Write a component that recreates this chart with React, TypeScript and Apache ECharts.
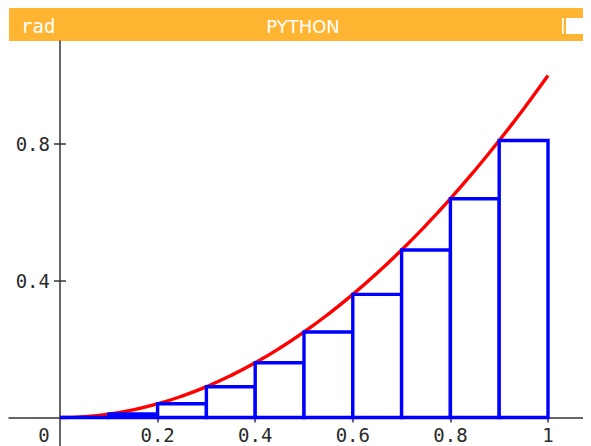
import React, { useEffect, useRef } from "react";
import * as echarts from "echarts";

// Left Riemann sum of y = x² on [0, 1] with 10 subintervals
const binStarts = [0, 0.1, 0.2, 0.3, 0.4, 0.5, 0.6, 0.7, 0.8, 0.9];
const binEnds = [0.1, 0.2, 0.3, 0.4, 0.5, 0.6, 0.7, 0.8, 0.9, 1.0];
const binHeights = [0, 0.01, 0.04, 0.09, 0.16, 0.25, 0.36, 0.49, 0.64, 0.81];

// Red curve sample points
const curveX = [0, 0.05, 0.1, 0.15, 0.2, 0.25, 0.3, 0.35, 0.4, 0.45, 0.5, 0.55, 0.6, 0.65, 0.7, 0.75, 0.8, 0.85, 0.9, 0.95, 1.0];
const curveY = [0, 0.0025, 0.01, 0.0225, 0.04, 0.0625, 0.09, 0.1225, 0.16, 0.2025, 0.25, 0.3025, 0.36, 0.4225, 0.49, 0.5625, 0.64, 0.7225, 0.81, 0.9025, 1.0];

const xTickValues = [0.2, 0.4, 0.6, 0.8, 1];
const xLabelValues = [0, 0.2, 0.4, 0.6, 0.8, 1];
const yTickValues = [0.4, 0.8];

const X_MIN = -0.1045;
const X_MAX = 1.0881;
const Y_MIN = -0.0834;
const Y_MAX = 1.1012;

const AXIS_COLOR = "#333333";
const LABEL_COLOR = "#2a2a2a";
const MONO = "'DejaVu Sans Mono', 'Liberation Mono', monospace";

export default function App() {
  const ref = useRef<HTMLDivElement>(null);

  useEffect(() => {
    if (!ref.current) return;
    const chart = echarts.init(ref.current, null, { renderer: "svg" });

    const axisLineStyle = { color: AXIS_COLOR, width: 1.5 };
    const labelStyle = { fontFamily: MONO, fontSize: 19, color: LABEL_COLOR };

    const option: any = {
      animation: false,
      backgroundColor: "#ffffff",
      grid: [
        // full plotting area: axis lines and ticks cross at the origin
        { left: 1, right: 0, top: 33, bottom: 0, outerBoundsMode: "none" },
        // area whose lower-left corner is the origin: carries the tick labels
        { left: 52, right: 0, top: 33, bottom: 28.5, outerBoundsMode: "none" },
      ],
      xAxis: [
        {
          type: "value",
          gridIndex: 0,
          min: X_MIN,
          max: X_MAX,
          position: "bottom",
          axisLine: { show: true, onZero: true, onZeroAxisIndex: 0, lineStyle: axisLineStyle },
          axisTick: { show: true, customValues: xTickValues, length: 5, lineStyle: axisLineStyle },
          axisLabel: { show: false },
          splitLine: { show: false },
        },
        {
          type: "value",
          gridIndex: 0,
          min: X_MIN,
          max: X_MAX,
          position: "top",
          axisLine: { show: false, onZero: true, onZeroAxisIndex: 0 },
          axisTick: { show: true, customValues: xTickValues, length: 5, lineStyle: axisLineStyle },
          axisLabel: { show: false },
          splitLine: { show: false },
        },
        {
          type: "value",
          gridIndex: 1,
          min: 0,
          max: X_MAX,
          position: "bottom",
          axisLine: { show: false, onZero: false },
          axisTick: { show: false },
          axisLabel: {
            show: true,
            customValues: xLabelValues,
            margin: 8,
            ...labelStyle,
            formatter: (v: number) => (v === 0 ? "{z|0}" : String(v)),
            rich: { z: { ...labelStyle, padding: [0, 32, 0, 0] } },
          },
          splitLine: { show: false },
        },
      ],
      yAxis: [
        {
          type: "value",
          gridIndex: 0,
          min: Y_MIN,
          max: Y_MAX,
          position: "left",
          axisLine: { show: true, onZero: true, onZeroAxisIndex: 0, lineStyle: axisLineStyle },
          axisTick: { show: true, customValues: yTickValues, length: 6, lineStyle: axisLineStyle },
          axisLabel: { show: false },
          splitLine: { show: false },
        },
        {
          type: "value",
          gridIndex: 0,
          min: Y_MIN,
          max: Y_MAX,
          position: "right",
          axisLine: { show: false, onZero: true, onZeroAxisIndex: 0 },
          axisTick: { show: true, customValues: yTickValues, length: 6, lineStyle: axisLineStyle },
          axisLabel: { show: false },
          splitLine: { show: false },
        },
        {
          type: "value",
          gridIndex: 1,
          min: 0,
          max: Y_MAX,
          position: "left",
          axisLine: { show: false, onZero: false },
          axisTick: { show: false },
          axisLabel: {
            show: true,
            customValues: yTickValues,
            margin: 10,
            ...labelStyle,
            formatter: (v: number) => String(v),
          },
          splitLine: { show: false },
        },
      ],
      series: [
        {
          type: "line",
          xAxisIndex: 0,
          yAxisIndex: 0,
          data: curveX.map((x, i) => [x, curveY[i]]),
          smooth: true,
          showSymbol: false,
          lineStyle: { color: "#ff0000", width: 3.4 },
          z: 3,
        },
        {
          type: "custom",
          xAxisIndex: 0,
          yAxisIndex: 0,
          data: binStarts.map((x0, i) => [x0, binEnds[i], binHeights[i]]),
          renderItem: (_params: any, api: any) => {
            const x0 = api.value(0);
            const x1 = api.value(1);
            const h = api.value(2);
            const pTL = api.coord([x0, h]);
            const pTR = api.coord([x1, h]);
            const pBR = api.coord([x1, 0]);
            const pBL = api.coord([x0, 0]);
            return {
              type: "polygon",
              shape: { points: [pBL, pTL, pTR, pBR] },
              style: { fill: "#ffffff", stroke: "#0000ff", lineWidth: 3.4, lineJoin: "miter" },
            };
          },
          z: 4,
        },
      ],
      graphic: [
        {
          type: "group",
          z: 100,
          children: [
            {
              type: "rect",
              shape: { x: 1, y: 0, width: 582, height: 33 },
              style: { fill: "#ffb531" },
            },
            {
              type: "text",
              x: 13,
              y: 18,
              style: {
                text: "rad",
                fill: "#ffffff",
                fontFamily: MONO,
                fontSize: 19,
                verticalAlign: "middle",
                align: "left",
              },
            },
            {
              type: "text",
              x: 295,
              y: 18,
              style: {
                text: "PYTHON",
                fill: "#ffffff",
                fontFamily: "'DejaVu Sans', sans-serif",
                fontSize: 18,
                verticalAlign: "middle",
                align: "center",
              },
            },
            {
              type: "rect",
              shape: { x: 554, y: 10, width: 1.6, height: 16 },
              style: { fill: "#ffffff" },
            },
            {
              type: "rect",
              shape: { x: 558, y: 10, width: 17, height: 16 },
              style: { fill: "#ffffff" },
            },
            {
              type: "rect",
              shape: { x: 578.5, y: 14, width: 2.5, height: 8 },
              style: { fill: "#ffffff" },
            },
          ],
        },
      ],
    };

    chart.setOption(option);
    return () => chart.dispose();
  }, []);

  return <div ref={ref} style={{ width: 583, height: 438 }} />;
}
